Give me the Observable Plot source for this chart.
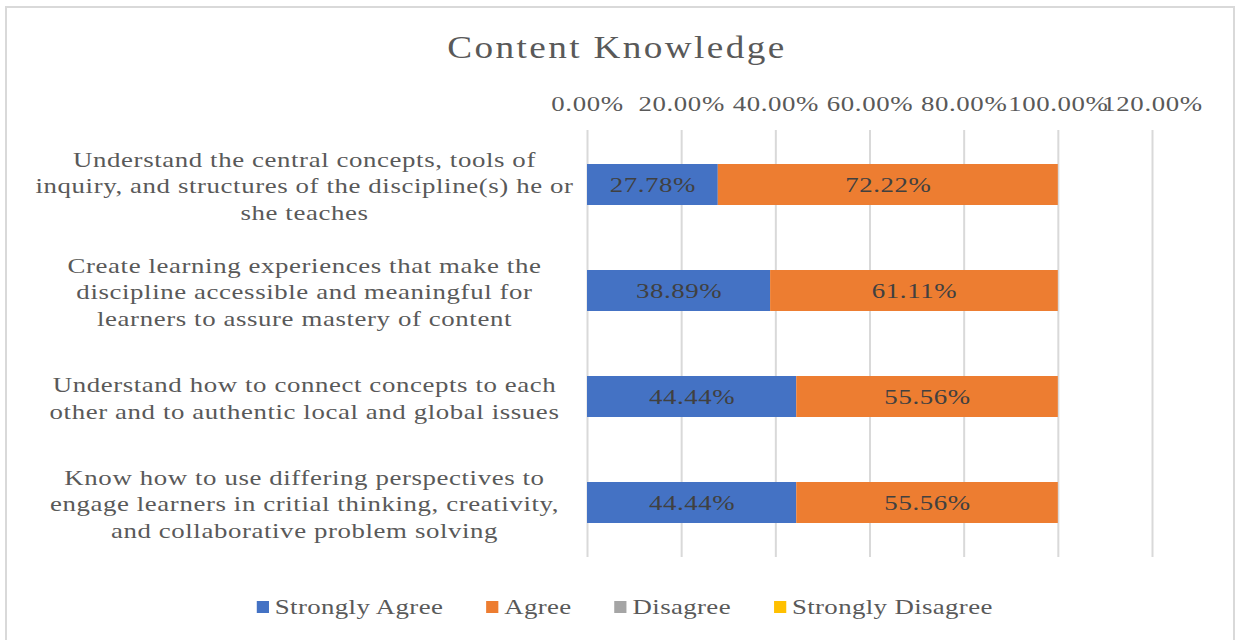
<!DOCTYPE html>
<html>
<head>
<meta charset="utf-8">
<script src="https://cdn.jsdelivr.net/npm/d3@7"></script>
<script src="https://cdn.jsdelivr.net/npm/@observablehq/plot@0.6"></script>
<style>
  body { margin: 0; background: #fff; overflow: hidden; font-family: "Liberation Serif", "Times New Roman", serif; }
  #wrap { position: relative; width: 1235px; height: 640px; overflow: hidden; background: #fff; }
  #frame { position: absolute; left: 5px; top: 6px; width: 1226px; height: 700px; border: 2px solid #d9d9d9; pointer-events: none; }
  #title { position: absolute; left: 0; top: 28px; width: 1235px; height: 40px; line-height: 40px; text-align: center;
           font-size: 31px; color: #595959; letter-spacing: 2px; transform: scaleX(1.2); transform-origin: 620px 50%; }
  #chart { position: absolute; left: 0; top: 80px; }
  #legend { position: absolute; left: 0; top: 587px; width: 1235px; height: 40px; display: flex; justify-content: center;
            align-items: center; gap: 35px; font-size: 22px; color: #595959; letter-spacing: 0.3px;
            transform: scaleX(1.22); transform-origin: 624px 50%; padding-left: 14px; box-sizing: border-box; }
  .item { display: flex; align-items: center; }
  .sw { width: 10px; height: 12px; margin-right: 5px; }
</style>
</head>
<body>
<div id="wrap">
  <div id="frame"></div>
  <div id="title">Content Knowledge</div>
  <div id="chart"></div>
  <div id="legend"></div>
</div>
<script>
// ---- data ----
const categories = [
  "Understand the central concepts, tools of\ninquiry, and structures of the discipline(s) he or\nshe teaches",
  "Create learning experiences that make the\ndiscipline accessible and meaningful for\nlearners to assure mastery of content",
  "Understand how to connect concepts to each\nother and to authentic local and global issues",
  "Know how to use differing perspectives to\nengage learners in critial thinking, creativity,\nand collaborative problem solving"
];
const seriesNames = ["Strongly Agree", "Agree", "Disagree", "Strongly Disagree"];
const seriesColors = ["#4472C4", "#ED7D31", "#A5A5A5", "#FFC000"];
const stronglyAgree = [27.78, 38.89, 44.44, 44.44];
const agree = [72.22, 61.11, 55.56, 55.56];
const disagree = [0, 0, 0, 0];
const stronglyDisagree = [0, 0, 0, 0];
const xTicks = [0, 20, 40, 60, 80, 100, 120];

// ---- table ----
const seriesValues = [stronglyAgree, agree, disagree, stronglyDisagree];
const rows = [];
categories.forEach((c, i) => {
  seriesNames.forEach((s, j) => rows.push({cat: c, series: s, value: seriesValues[j][i]}));
});
const fmt = d => d.toFixed(2) + "%";

const chart = Plot.plot({
  width: 1235,
  height: 495,
  marginTop: 50,
  marginBottom: 18,
  marginLeft: 587,
  marginRight: 83,
  style: { fontFamily: "Liberation Serif, Times New Roman, serif", letterSpacing: "0.5px", background: "transparent" },
  x: { domain: [0, 120], axis: null, label: null },
  y: { domain: categories, paddingInner: 0.616, paddingOuter: 0.308, axis: null, label: null },
  color: { domain: seriesNames, range: seriesColors },
  marks: [
    Plot.gridX(xTicks, { stroke: "#d9d9d9", strokeOpacity: 1, strokeWidth: 2 }),
    Plot.axisX({ anchor: "top", ticks: xTicks, tickFormat: fmt, tickSize: 0, tickPadding: 20, fontSize: 22, fill: "#595959", label: null }),
    Plot.barX(rows, Plot.stackX({ x: "value", y: "cat", fill: "series", order: seriesNames })),
    Plot.text(rows.filter(d => d.value > 0), Plot.stackX({
      x: "value", y: "cat", z: "series", order: seriesNames,
      text: d => fmt(d.value), fontSize: 22, fill: "#404040"
    })),
    Plot.text(categories, {
      y: d => d, text: d => d, frameAnchor: "left", dx: -283, textAnchor: "middle",
      lineHeight: 1.2, fontSize: 22, fill: "#595959"
    })
  ]
});
// widen glyphs horizontally about each text's own anchor, like the reference's stretched type
chart.querySelectorAll("text").forEach(t => {
  const tr = t.getAttribute("transform") || "";
  t.setAttribute("transform", (tr + " scale(1.22,1)").trim());
});
document.getElementById("chart").appendChild(chart);

const legend = document.getElementById("legend");
seriesNames.forEach((s, i) => {
  const it = document.createElement("div");
  it.className = "item";
  const sw = document.createElement("div");
  sw.className = "sw";
  sw.style.background = seriesColors[i];
  const t = document.createElement("span");
  t.textContent = s;
  it.appendChild(sw); it.appendChild(t);
  legend.appendChild(it);
});
</script>
</body>
</html>
